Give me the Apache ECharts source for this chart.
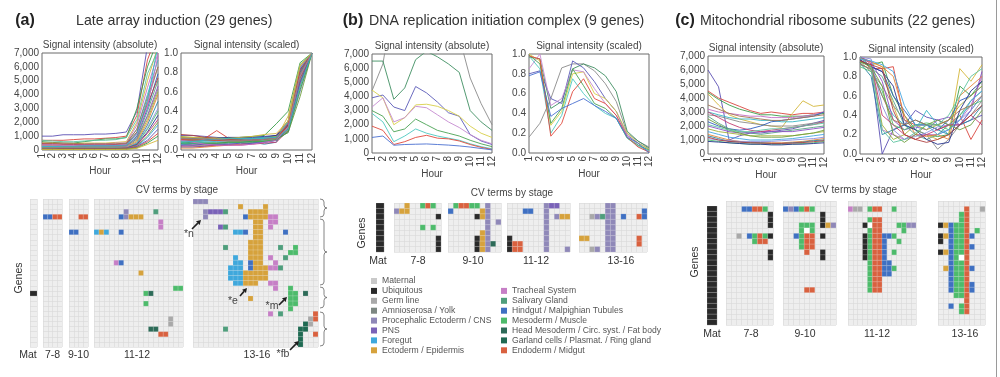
<!DOCTYPE html>
<html><head><meta charset="utf-8">
<script src="https://cdn.jsdelivr.net/npm/echarts@6/dist/echarts.min.js"></script>
<style>html,body{margin:0;padding:0;background:#fff}#c{width:1000px;height:377px}</style>
</head><body><div id="c"></div>
<script>
// ---------------- DATA ----------------
const hours = [1,2,3,4,5,6,7,8,9,10,11,12];

// (a) Late array induction (29 genes)
const aAbs = [
 [1000,1000,1100,1100,1100,1150,1150,1200,1300,2800,7500,9000],
 [700,700,700,750,800,800,850,900,1000,2500,6500,8500],
 [600,550,500,500,600,700,800,800,900,3000,6000,8000],
 [500,500,450,450,500,500,500,550,600,2000,5000,7500],
 [400,400,450,400,400,450,450,500,500,1800,4500,7000],
 [300,300,300,300,350,350,350,400,450,1500,4000,6500],
 [350,350,300,300,300,300,300,300,350,1200,3500,6000],
 [250,250,250,250,250,300,300,300,300,1000,3000,5500],
 [200,200,200,200,200,250,250,250,300,900,2800,5000],
 [150,150,150,200,200,200,200,200,250,800,2500,4600],
 [300,300,250,250,200,200,200,200,200,700,2200,4200],
 [200,200,200,150,150,150,150,150,200,600,2000,4000],
 [100,100,100,100,100,100,100,150,150,500,1800,3500],
 [250,250,200,200,200,200,200,200,200,500,1600,3000],
 [150,150,150,150,150,150,150,150,150,450,1500,2800],
 [100,100,100,100,100,100,100,100,120,400,1300,2500],
 [120,120,120,120,120,120,120,120,150,350,1200,2200],
 [80,80,80,80,80,80,80,80,100,300,1000,2000],
 [60,60,60,60,60,60,60,60,80,250,900,1800],
 [500,500,500,480,450,450,450,450,500,1500,3800,6000],
 [700,650,600,600,650,700,700,750,900,2200,5500,7200],
 [450,450,400,400,380,380,380,400,420,1300,3300,5200],
 [100,100,100,100,100,100,100,100,100,250,700,1500],
 [80,80,80,80,80,80,80,80,80,200,600,1200],
 [50,50,50,50,50,50,50,50,60,150,500,1000],
 [40,40,40,40,40,40,40,40,50,120,400,700],
 [350,350,350,350,350,350,350,350,400,1100,3200,6800],
 [250,250,250,250,300,300,300,300,350,1200,3600,7600],
 [150,150,200,200,200,200,200,250,300,800,2400,4400]
];
const aScaled = [
 [0.15,0.15,0.14,0.13,0.12,0.12,0.12,0.13,0.15,0.3,0.85,1],
 [0.12,0.1,0.12,0.2,0.12,0.1,0.1,0.12,0.15,0.28,0.8,1],
 [0.1,0.1,0.1,0.1,0.12,0.13,0.14,0.15,0.27,0.4,0.9,1],
 [0.08,0.08,0.07,0.08,0.08,0.09,0.1,0.1,0.12,0.35,0.88,1],
 [0.05,0.06,0.06,0.07,0.08,0.08,0.09,0.1,0.12,0.3,0.85,1],
 [0.1,0.09,0.09,0.1,0.1,0.11,0.12,0.13,0.14,0.25,0.8,1],
 [0.12,0.12,0.11,0.1,0.1,0.1,0.11,0.11,0.12,0.22,0.75,1],
 [0.03,0.03,0.04,0.05,0.06,0.06,0.07,0.08,0.1,0.28,0.82,1],
 [0.06,0.05,0.05,0.06,0.07,0.08,0.09,0.09,0.11,0.2,0.7,1],
 [0.09,0.1,0.1,0.11,0.11,0.1,0.1,0.12,0.13,0.24,0.78,1],
 [0.14,0.13,0.13,0.12,0.12,0.11,0.11,0.12,0.14,0.2,0.65,1],
 [0.02,0.02,0.03,0.04,0.05,0.06,0.08,0.1,0.12,0.3,0.86,1],
 [0.07,0.08,0.1,0.12,0.13,0.11,0.08,0.06,0.08,0.26,0.8,1],
 [0.11,0.1,0.1,0.09,0.09,0.1,0.1,0.11,0.12,0.18,0.6,1],
 [0.08,0.07,0.07,0.07,0.08,0.08,0.08,0.09,0.1,0.22,0.72,1],
 [0.13,0.12,0.12,0.12,0.13,0.13,0.13,0.14,0.15,0.26,0.83,1],
 [0.04,0.04,0.04,0.05,0.05,0.05,0.06,0.07,0.08,0.2,0.68,1],
 [0.1,0.11,0.12,0.12,0.11,0.1,0.09,0.1,0.11,0.18,0.55,1],
 [0.06,0.07,0.08,0.09,0.1,0.1,0.11,0.12,0.13,0.28,0.84,1],
 [0.12,0.11,0.1,0.1,0.09,0.09,0.1,0.1,0.12,0.24,0.78,1],
 [0.09,0.09,0.08,0.08,0.08,0.08,0.09,0.1,0.12,0.3,0.88,1],
 [0.16,0.15,0.13,0.12,0.11,0.1,0.1,0.11,0.13,0.25,0.74,1],
 [0.05,0.05,0.06,0.06,0.06,0.07,0.07,0.08,0.1,0.22,0.7,1],
 [0.11,0.1,0.1,0.1,0.1,0.1,0.1,0.11,0.12,0.27,0.82,1],
 [0.07,0.07,0.07,0.07,0.08,0.08,0.09,0.09,0.1,0.19,0.62,1],
 [0.13,0.13,0.12,0.12,0.12,0.13,0.14,0.16,0.17,0.3,0.87,1],
 [0.1,0.08,0.06,0.05,0.05,0.05,0.06,0.08,0.1,0.24,0.76,1],
 [0.08,0.09,0.1,0.11,0.12,0.12,0.12,0.12,0.13,0.21,0.66,1],
 [0.12,0.12,0.12,0.11,0.1,0.1,0.1,0.11,0.12,0.23,0.77,1]
];

// (b) DNA replication initiation complex (9 genes)
const bAbs = [
 [4400,6300,11000,14000,15000,15000,14500,12000,8200,5300,3500,2000],
 [6500,6500,3800,4600,6600,7200,6800,6300,5700,3000,2200,1600],
 [3900,4100,3250,3000,4700,4250,3600,2850,2600,1300,850,600],
 [4450,3900,2000,2500,3400,3450,3300,3000,2600,1900,1400,1100],
 [3250,3900,2200,2500,3300,3200,2700,2200,1800,1300,900,650],
 [3000,2600,1500,1700,2400,2000,1600,1400,1200,900,650,450],
 [2800,2200,800,1200,1700,1400,1200,1050,900,650,450,300],
 [1900,1600,600,800,1100,1250,1050,1000,850,600,400,250],
 [1100,1200,550,600,620,640,600,560,500,420,320,220]
];
const bScaled = [
 [0.16,0.3,0.55,0.86,0.9,0.9,0.83,0.7,0.52,0.2,0.12,0.06],
 [0.97,0.95,0.45,0.52,0.85,0.9,0.86,0.78,0.62,0.22,0.12,0.05],
 [0.8,0.83,0.55,0.5,0.93,0.86,0.72,0.55,0.42,0.18,0.1,0.04],
 [1.0,0.93,0.28,0.42,0.8,0.82,0.6,0.55,0.42,0.2,0.1,0.04],
 [0.85,1.0,0.48,0.55,0.84,0.82,0.65,0.5,0.38,0.18,0.08,0.02],
 [0.99,0.9,0.3,0.45,0.85,0.68,0.5,0.45,0.35,0.15,0.08,0.03],
 [0.98,0.85,0.2,0.38,0.75,0.6,0.48,0.4,0.35,0.15,0.07,0.02],
 [0.98,0.95,0.17,0.3,0.62,0.75,0.55,0.5,0.38,0.16,0.06,0.01],
 [0.78,0.82,0.37,0.45,0.5,0.55,0.48,0.42,0.35,0.16,0.1,0.0]
];

// (c) Mitochondrial ribosome subunits (22 genes)
const cAbs = [
 [6000,4800,1000,1300,1500,1500,1600,1700,1800,2000,2200,2400],
 [4500,4000,3700,3400,3100,2900,3000,2900,2800,2900,2900,3000],
 [4400,3900,3500,3200,3000,2800,2800,2700,2700,2700,2800,2900],
 [4300,3500,2800,2500,2300,2100,2000,1900,2900,3800,3400,3500],
 [3200,3000,2900,2800,2700,2700,2600,2600,2600,2700,2800,3000],
 [3000,2800,2600,2500,2500,2400,2400,2300,2300,2400,2500,2600],
 [2800,2700,2500,2300,2200,2100,2000,2000,2000,2100,2200,2300],
 [2300,2000,1800,1700,1800,2000,2300,2400,2500,2600,2700,3000],
 [2700,2200,1800,1600,1500,1400,1500,1600,1700,1800,1900,2000],
 [2000,1800,1600,1500,1500,1600,1600,1600,1600,1700,1800,1900],
 [1800,1600,1500,1400,1300,1300,1300,1300,1300,1400,1500,1600],
 [1400,1200,1000,900,850,800,800,800,850,900,1000,1100],
 [1300,1100,900,850,800,800,750,750,800,850,950,1000],
 [1100,1000,950,900,900,900,900,950,1000,1050,1100,1200],
 [1000,900,800,750,700,700,700,700,700,750,800,900],
 [900,850,800,750,700,700,650,650,700,700,750,800],
 [3000,2600,2200,1900,1700,1600,1700,1800,1900,2000,2100,2300],
 [2500,2100,1700,1500,1300,1200,1200,1200,1300,1400,1500,1700],
 [1600,1400,1200,1100,1000,1000,1000,1050,1100,1200,1300,1400],
 [3500,3200,2900,2700,2600,2500,2400,2400,2500,2600,2700,2800],
 [2100,1900,1700,1600,1600,1700,1800,1800,1900,2000,2100,2200],
 [1200,1000,900,850,800,780,760,760,780,820,880,950]
];
const cScaled = [
 [1.0,0.9,0.0,0.25,0.3,0.45,0.38,0.35,0.3,0.3,0.35,0.4],
 [0.98,0.88,0.88,0.9,0.35,0.3,0.3,0.25,0.3,0.4,0.15,0.35],
 [0.95,0.92,0.95,0.6,0.4,0.25,0.2,0.18,0.2,0.7,0.6,0.75],
 [1.0,0.95,0.9,0.5,0.2,0.15,0.2,0.15,0.2,0.88,0.75,0.92],
 [0.98,0.95,0.25,0.2,0.15,0.2,0.2,0.2,0.25,0.35,0.5,0.8],
 [1.0,0.9,0.6,0.4,0.3,0.25,0.45,0.3,0.2,0.3,0.45,0.6],
 [0.95,0.85,0.7,0.5,0.35,0.25,0.2,0.05,0.15,0.3,0.4,0.55],
 [0.97,0.9,0.85,0.6,0.45,0.3,0.3,0.25,0.35,0.55,0.6,0.7],
 [0.92,0.88,0.8,0.55,0.3,0.2,0.15,0.2,0.3,0.4,0.55,0.65],
 [1.0,0.95,0.75,0.35,0.25,0.28,0.25,0.35,0.38,0.3,0.45,0.85],
 [0.96,0.9,0.3,0.15,0.2,0.3,0.25,0.3,0.35,0.5,0.6,0.7],
 [0.99,0.95,0.9,0.8,0.4,0.2,0.18,0.2,0.15,0.6,0.7,0.8],
 [0.94,0.8,0.2,0.25,0.3,0.35,0.3,0.25,0.2,0.3,0.35,0.5],
 [1.0,0.98,0.5,0.25,0.15,0.18,0.22,0.28,0.3,0.35,0.45,0.6],
 [0.9,0.85,0.65,0.3,0.25,0.3,0.32,0.3,0.25,0.4,0.5,0.55],
 [0.97,0.9,0.85,0.7,0.3,0.25,0.15,0.1,0.12,0.45,0.65,0.75],
 [1.0,0.93,0.4,0.3,0.2,0.15,0.2,0.25,0.3,0.3,0.4,0.3],
 [0.95,0.9,0.7,0.2,0.12,0.2,0.3,0.35,0.3,0.25,0.3,0.45],
 [0.98,0.96,0.92,0.85,0.5,0.3,0.3,0.2,0.25,0.35,0.55,0.65],
 [0.93,0.87,0.6,0.35,0.3,0.35,0.3,0.3,0.35,0.45,0.5,0.6],
 [1.0,0.9,0.25,0.12,0.15,0.22,0.3,0.3,0.4,0.6,0.8,0.88],
 [0.96,0.92,0.88,0.45,0.2,0.15,0.12,0.15,0.2,0.3,0.4,0.5]
];

// CV terms (legend)
const termNames = ['Maternal','Ubiquitous','Germ line','Amnioserosa / Yolk','Procephalic Ectoderm / CNS','PNS','Foregut','Ectoderm / Epidermis',
 'Tracheal System','Salivary Gland','Hindgut / Malpighian Tubules','Mesoderm / Muscle','Head Mesoderm / Circ. syst. / Fat body','Garland cells / Plasmat. / Ring gland','Endoderm / Midgut'];
const termColors = ['#c9c9c9','#2a2a2a','#a9a9a9','#7d8782','#8f88b8','#7a62b8','#3fa8dc','#d6a23c',
 '#c67fc6','#4f9e7c','#3f70c2','#4dbb6b','#2d6b58','#1f6a52','#d9613f'];
const stageLabels = ['Mat','7-8','9-10','11-12','13-16'];

// CV term cells per stage block: [column, firstRow, lastRow, termIndex] (15 = empty white cell)
const aMat  = [[0,18,18,1]];
const a78   = [[0,3,3,10],[1,3,3,10],[2,3,3,14],[3,3,3,14]];
const a910  = [[2,3,3,14],[3,3,3,14],[0,6,6,10],[1,6,6,10]];
const a1112 = [[6,2,3,4],[5,3,3,10],[7,3,3,7],[8,3,3,7],[9,3,3,7],[12,2,2,9],[13,4,5,8],
 [0,6,6,6],[1,6,6,7],[2,6,6,6],[5,6,6,10],[4,12,12,8],[5,12,12,10],[9,14,14,7],
 [16,17,17,11],[17,17,17,11],[10,18,18,11],[11,18,18,12],[10,20,20,11],[15,23,24,2],
 [11,25,25,12],[12,25,25,12],[13,26,26,14],[14,26,26,14]];
const a1316 = [[0,0,0,4],[1,0,0,4],[2,0,0,4],[9,1,1,7],[14,1,1,7],
 [2,2,3,4],[3,2,2,5],[4,2,2,5],[5,2,2,5],[6,2,2,9],
 [10,3,3,10],[11,2,3,7],[12,2,3,7],[13,2,3,7],[14,2,3,7],[15,3,5,8],[16,3,4,8],
 [5,5,5,5],[6,5,5,9],[8,6,6,6],[9,6,6,6],[10,6,6,10],[18,6,6,10],
 [12,4,16,7],[13,4,15,7],[11,8,11,7],[11,14,16,7],[14,13,15,7],[10,14,16,7],[11,12,13,10],
 [6,9,9,9],[17,9,9,9],[20,9,10,11],[19,10,10,11],[18,11,11,9],
 [8,11,16,6],[9,12,16,6],[7,13,15,6],
 [15,11,11,8],[16,12,12,8],[15,13,13,8],[16,13,13,8],[17,13,13,9],[15,16,16,8],[16,16,17,8],
 [11,19,19,7],[19,17,21,11],[20,18,20,11],[22,18,18,12],
 [15,22,22,8],[17,22,22,9],[24,22,23,14],[23,23,24,2],[24,26,26,14],[6,25,25,9],
 [21,25,28,13],[22,24,25,13]];

const bMat  = [[0,0,8,1]];
const b78   = [[0,1,1,4],[1,1,1,7],[2,0,1,7],[5,0,0,11],[6,0,0,14],[7,0,0,11],[8,2,2,1],[8,6,8,1],[5,4,4,11],[7,4,4,11]];
const b910  = [[1,0,0,11],[2,0,0,14],[3,0,0,14],[4,0,0,11],[5,0,0,11],[7,0,8,4],[0,1,1,10],[6,1,2,7],[5,2,2,1],
 [9,3,3,4],[6,5,6,7],[5,6,8,1],[6,7,8,7],[8,7,7,12]];
const b1112 = [[7,0,8,4],[8,0,0,5],[9,0,0,5],[3,1,1,10],[4,1,1,10],[9,2,2,4],[10,2,2,7],[11,2,2,7],
 [0,6,8,1],[1,7,8,14],[2,7,8,14],[11,8,8,4]];
const b1316 = [[5,0,8,4],[6,0,8,4],[2,2,2,2],[3,2,2,4],[4,2,2,9],[8,2,2,10],[11,2,2,14],[12,1,2,10],
 [0,6,6,7],[1,6,6,7],[11,6,7,14],[2,8,8,2],[3,8,8,4]];

const cMat  = [[0,0,21,1]];
const c78   = [[3,1,1,10],[4,1,1,10],[5,1,1,14],[6,1,1,14],[7,1,1,11],[8,2,4,1],
 [2,6,6,2],[4,6,6,10],[5,6,6,11],[6,6,6,14],[7,6,6,11],[8,6,6,1],[5,7,7,11],[6,7,7,14],[7,7,7,14],[8,9,10,1]];
const c910  = [[0,1,1,10],[1,1,1,4],[2,1,1,10],[3,1,1,11],[4,1,1,14],[5,1,1,11],
 [7,2,4,1],[8,4,4,7],[9,4,4,4],[3,4,8,11],[4,4,4,11],[5,4,5,11],[4,5,5,15],[4,6,9,14],[5,6,8,14],
 [2,6,6,10],[7,6,6,1],[7,9,10,1],[4,16,16,14],[5,16,16,14]];
const c1112 = [[0,1,1,8],[1,1,1,2],[2,1,1,2],[4,1,1,11],[5,1,1,14],[6,1,1,14],[9,1,1,11],
 [4,3,16,11],[4,4,4,15],[5,3,16,14],[6,3,16,14],[3,4,4,1],[3,6,10,1],
 [7,6,13,10],[8,6,6,10],[8,11,13,10],[9,6,6,11],[10,7,7,11],[9,9,9,11],[9,12,12,11],
 [10,4,4,11],[11,4,5,11],[12,4,4,4],[13,4,4,4]];
const c1316 = [[5,1,20,14],[8,1,1,2],[4,2,3,11],
 [0,4,4,1],[1,4,4,7],[2,4,4,10],[3,4,17,11],[4,4,17,11],[4,10,10,15],
 [2,5,16,10],[7,5,5,11],[0,6,7,1],[1,6,6,7],[0,9,9,1],[1,9,9,7],[1,12,12,7],
 [6,6,6,10],[6,8,8,10],[6,12,12,10],[6,15,16,10],[2,19,19,10],[4,19,20,11]];

// ---------------- LAYOUT / STYLE ----------------
const FONT = '"Liberation Sans", Arial, Helvetica, sans-serif';
const palette = ['#5b4fb3','#d9453d','#3a9e4a','#d4b73a','#c46ec6','#36b6c4','#8a8a8a','#2f5fbf','#58a584','#8c4fc4',
 '#a4b33a','#e3873a','#2d86a3','#8d8fdb','#4fbf70','#27348f','#c43c72','#6f9f3f','#44a6e2','#a57552','#5fc5a0','#b04040'];
const bColors = ['#8a8a8a','#3f8f62','#5a5ab8','#d8cf48','#c58ad0','#4aa354','#4cc8c0','#e0483c','#4a6fd0'];

const grid=[], xAxis=[], yAxis=[], series=[], graphic=[];

function txt(text,x,y,o={}){
  graphic.push({type:'text', x, y, rotation:o.rot||0, silent:true, z:100,
    style:{text, font:(o.bold?'bold ':'')+(o.size||10)+'px '+FONT, fill:o.color||'#444',
      align:o.align||'center', verticalAlign:'middle', textAlign:o.align||'center', textVerticalAlign:'middle'}});
}
function seg(x1,y1,x2,y2,stroke,w){
  graphic.push({type:'line', silent:true, z:100, shape:{x1,y1,x2,y2}, style:{stroke, lineWidth:w}});
}
function qcurve(x1,y1,cx,cy,x2,y2){
  graphic.push({type:'bezierCurve', silent:true, z:100, shape:{x1,y1,x2,y2,cpx1:cx,cpy1:cy}, style:{stroke:'#666', lineWidth:0.8, fill:null}});
}
function arrow(x1,y1,x2,y2){
  const dx=x2-x1, dy=y2-y1, L=Math.hypot(dx,dy), ux=dx/L, uy=dy/L, hl=4.5, hw=2.6;
  const bx=x2-ux*hl, by=y2-uy*hl;
  seg(x1,y1,bx,by,'#1e1e1e',1.6);
  graphic.push({type:'polygon', silent:true, z:100, shape:{points:[[x2,y2],[bx-uy*hw,by+ux*hw],[bx+uy*hw,by-ux*hw]]}, style:{fill:'#1e1e1e'}});
}
function brace(x,y1,y2){
  const ym=(y1+y2)/2, w=4;
  qcurve(x,y1,x+w,y1,x+w,y1+3);
  seg(x+w,y1+3,x+w,ym-3,'#666',0.8);
  qcurve(x+w,ym-3,x+w,ym,x+w+3,ym);
  qcurve(x+w+3,ym,x+w,ym,x+w,ym+3);
  seg(x+w,ym+3,x+w,y2-3,'#666',0.8);
  qcurve(x+w,y2-3,x+w,y2,x,y2);
}

function addLineGrid(g, kind, sets, colors, sub){
  const gi = grid.length;
  grid.push({left:g.left, top:g.top, width:g.width, height:g.height, show:true, borderColor:'#6a6a6a', borderWidth:1, backgroundColor:'#fff'});
  xAxis.push({gridIndex:gi, type:'value', min:1, max:12, interval:1, axisLine:{show:false}, axisTick:{show:false}, splitLine:{show:false},
    axisLabel:{rotate:90, fontSize:10, color:'#444', margin:3, fontFamily:FONT}});
  yAxis.push({gridIndex:gi, type:'value', min:0, max: kind==='abs'?7000:1, interval: kind==='abs'?1000:0.2,
    axisLine:{show:false}, axisTick:{show:false}, splitLine:{show:false},
    axisLabel:{fontSize:10, color:'#444', margin:3, fontFamily:FONT,
      formatter: v => kind==='abs' ? Math.round(v).toLocaleString('en-US') : v.toFixed(1)}});
  sets.forEach((vals,i)=>series.push({type:'line', xAxisIndex:gi, yAxisIndex:gi, data: vals.map((v,j)=>[hours[j],v]),
    symbol:'none', silent:true, animation:false, clip:true, lineStyle:{width:0.9, color:colors[i%colors.length]}}));
  txt(sub, g.left+g.width/2, g.top-8, {size:10, color:'#444'});
  txt('Hour', g.left+g.width/2, g.top+g.height+21, {size:10, color:'#444'});
}

function addHeat(b){
  const gi = grid.length;
  grid.push({left:b.left, top:b.top, width:b.width, height:b.height, show:true, backgroundColor:'#eeeeee', borderWidth:0});
  const ax = {axisLine:{show:false}, axisTick:{show:false}, axisLabel:{show:false}, splitLine:{show:true, lineStyle:{color:'#d9d9d9', width:0.6}}};
  xAxis.push(Object.assign({gridIndex:gi, type:'value', min:0, max:b.cols, interval:1}, ax));
  yAxis.push(Object.assign({gridIndex:gi, type:'value', min:0, max:b.rows, interval:1, inverse:true}, ax));
  const cells=[];
  b.runs.forEach(([c,r0,r1,t])=>{ for(let r=r0;r<=r1;r++) cells.push([c,r,t]); });
  series.push({type:'custom', xAxisIndex:gi, yAxisIndex:gi, data:cells, silent:true, animation:false, clip:false,
    renderItem:(params, api)=>{
      const c=api.value(0), r=api.value(1), t=api.value(2);
      const p0=api.coord([c,r]), p1=api.coord([c+1,r+1]);
      return {type:'rect', shape:{x:Math.min(p0[0],p1[0]), y:Math.min(p0[1],p1[1]), width:Math.abs(p1[0]-p0[0]), height:Math.abs(p1[1]-p0[1])},
        style:{fill: t===15 ? '#ffffff' : termColors[t], stroke:'rgba(255,255,255,0.28)', lineWidth:0.5}};
    }});
  txt(b.label, b.labelX!==undefined?b.labelX:b.left+b.width/2, b.labelY, {size:10.5, color:'#333'});
}

// ---- titles ----
txt('(a)', 25, 21, {size:16, bold:true, color:'#222'});
txt('Late array induction (29 genes)', 76, 21, {size:14.2, align:'left', color:'#333'});
txt('(b)', 353, 21, {size:16, bold:true, color:'#222'});
txt('DNA replication initiation complex (9 genes)', 369, 21, {size:14.2, align:'left', color:'#333'});
txt('(c)', 685, 21, {size:16, bold:true, color:'#222'});
txt('Mitochondrial ribosome subunits (22 genes)', 700, 21, {size:14.2, align:'left', color:'#333'});

// ---- line charts ----
addLineGrid({left:42, top:53, width:116, height:97}, 'abs', aAbs, palette, 'Signal intensity (absolute)');
addLineGrid({left:181, top:53, width:131, height:97}, 'scaled', aScaled, palette, 'Signal intensity (scaled)');
addLineGrid({left:372, top:54, width:120, height:99}, 'abs', bAbs, bColors, 'Signal intensity (absolute)');
addLineGrid({left:529, top:54, width:120, height:99}, 'scaled', bScaled, bColors, 'Signal intensity (scaled)');
addLineGrid({left:708, top:56, width:116, height:98}, 'abs', cAbs, palette, 'Signal intensity (absolute)');
addLineGrid({left:860, top:57, width:122, height:97}, 'scaled', cScaled, palette, 'Signal intensity (scaled)');

// ---- CV term grids ----
const blocks = [
 {left:30, top:199, width:7,  height:148, cols:1,  rows:29, runs:aMat,  label:stageLabels[0], labelX:28, labelY:355},
 {left:43, top:199, width:19, height:148, cols:4,  rows:29, runs:a78,   label:stageLabels[1], labelY:355},
 {left:69, top:199, width:19, height:148, cols:4,  rows:29, runs:a910,  label:stageLabels[2], labelY:355},
 {left:94, top:199, width:89, height:148, cols:18, rows:29, runs:a1112, label:stageLabels[3], labelX:137, labelY:355},
 {left:193,top:199, width:125,height:148, cols:25, rows:29, runs:a1316, label:stageLabels[4], labelX:257, labelY:355},

 {left:376, top:203, width:8,  height:49, cols:1,  rows:9, runs:bMat,  label:stageLabels[0], labelX:378, labelY:261},
 {left:394, top:203, width:47, height:49, cols:9,  rows:9, runs:b78,   label:stageLabels[1], labelX:418, labelY:261},
 {left:448, top:203, width:53, height:49, cols:10, rows:9, runs:b910,  label:stageLabels[2], labelX:473, labelY:261},
 {left:507, top:203, width:63, height:49, cols:12, rows:9, runs:b1112, label:stageLabels[3], labelX:536, labelY:261},
 {left:579, top:203, width:68, height:49, cols:13, rows:9, runs:b1316, label:stageLabels[4], labelX:621, labelY:261},

 {left:707, top:206, width:10, height:119, cols:1,  rows:22, runs:cMat,  label:stageLabels[0], labelX:712, labelY:334},
 {left:726, top:201, width:47, height:124, cols:9,  rows:23, runs:c78,   label:stageLabels[1], labelX:751, labelY:334},
 {left:783, top:201, width:53, height:124, cols:10, rows:23, runs:c910,  label:stageLabels[2], labelX:805, labelY:334},
 {left:848, top:201, width:68, height:124, cols:14, rows:23, runs:c1112, label:stageLabels[3], labelX:877, labelY:334},
 {left:938, top:201, width:47, height:124, cols:9,  rows:23, runs:c1316, label:stageLabels[4], labelX:965, labelY:334}
];
blocks.forEach(addHeat);

txt('CV terms by stage', 177, 190, {size:10, color:'#444'});
txt('CV terms by stage', 512, 193, {size:10, color:'#444'});
txt('CV terms by stage', 856, 190, {size:10, color:'#444'});
txt('Genes', 19, 278, {size:10.5, rot:Math.PI/2, color:'#333'});
txt('Genes', 362, 233, {size:10.5, rot:Math.PI/2, color:'#333'});
txt('Genes', 695, 262, {size:10.5, rot:Math.PI/2, color:'#333'});

// annotations in (a)
brace(320,199,217); brace(320,219,285); brace(320,287,308); brace(320,312,346);
arrow(192,229,201,220); txt('*n', 189,234,{size:10.5,color:'#444'});
arrow(240,296,247,288); txt('*e', 233,301,{size:10.5,color:'#444'});
arrow(279,305,287,297); txt('*m', 272,306,{size:10.5,color:'#444'});
arrow(290,350,299,341); txt('*fb',283,354,{size:10.5,color:'#444'});

// legend
termNames.forEach((n,i)=>{
  const col = i<8?0:1, row = i<8?i:i-7;
  const x = col?501:371, y = 281 + row*9.9;
  graphic.push({type:'rect', silent:true, z:100, shape:{x, y:y-3, width:6, height:6}, style:{fill:termColors[i]}});
  txt(n, x+11, y, {size:8.6, align:'left', color:'#555'});
});

// right border
seg(996.5,0,996.5,377,'#9a9a9a',1);

const chart = echarts.init(document.getElementById('c'), null, {renderer:'canvas', width:1000, height:377});
chart.setOption({animation:false, backgroundColor:'#ffffff', grid, xAxis, yAxis, series, graphic});
</script></body></html>
